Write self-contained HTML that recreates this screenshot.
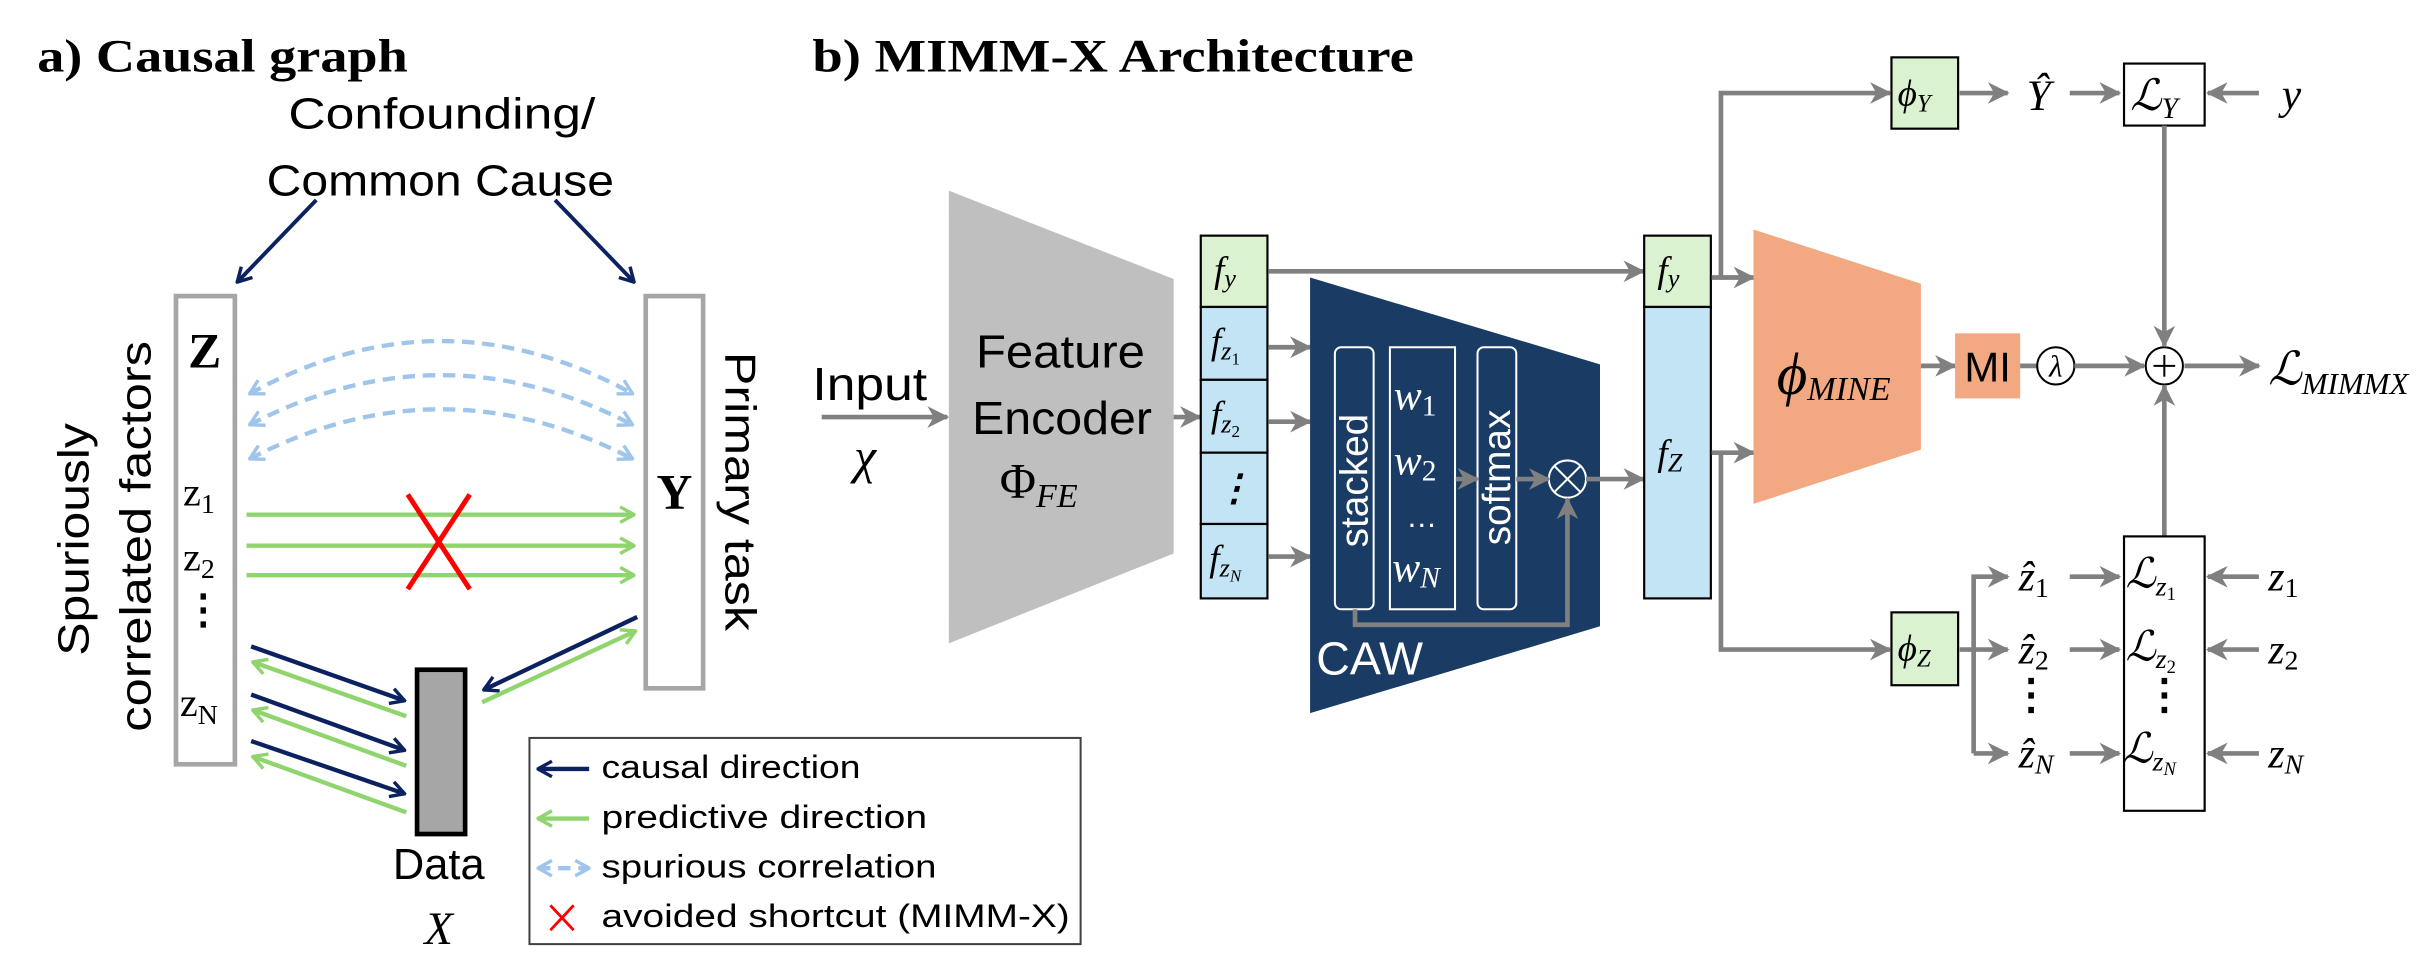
<!DOCTYPE html>
<html><head><meta charset="utf-8"><style>
html,body{margin:0;padding:0;background:#fff;}
svg{display:block;}
text{font-family:"Liberation Sans",sans-serif;}
.s{font-family:"Liberation Serif","DejaVu Serif",serif;}
.m{font-family:"Liberation Serif","DejaVu Serif",serif;font-style:italic;}
</style></head><body>
<svg width="2431" height="959" viewBox="0 0 1568 618.6" preserveAspectRatio="none" xmlns="http://www.w3.org/2000/svg">
<defs>
<marker id="g" markerUnits="userSpaceOnUse" viewBox="0 0 12 12" refX="11" refY="6" markerWidth="14" markerHeight="14" orient="auto-start-reverse"><path d="M0,0 L12,6 L0,12 L3.5,6 Z" fill="#808080"/></marker>
<marker id="n" markerUnits="userSpaceOnUse" viewBox="0 0 12 12" refX="11" refY="6" markerWidth="12" markerHeight="12" orient="auto-start-reverse"><path d="M2,1 L11,6 L2,11" fill="none" stroke="#0c2160" stroke-width="2.2"/></marker>
<marker id="gr" markerUnits="userSpaceOnUse" viewBox="0 0 12 12" refX="11" refY="6" markerWidth="12" markerHeight="12" orient="auto-start-reverse"><path d="M2,1 L11,6 L2,11" fill="none" stroke="#8fd46c" stroke-width="2.2"/></marker>
<marker id="b" markerUnits="userSpaceOnUse" viewBox="0 0 12 12" refX="11" refY="6" markerWidth="12" markerHeight="12" orient="auto-start-reverse"><path d="M2,1 L11,6 L2,11" fill="none" stroke="#9fc5ea" stroke-width="2.2"/></marker>
</defs>

<!-- Titles -->
<text x="24" y="46" class="s" font-weight="bold" font-size="30" textLength="239" lengthAdjust="spacingAndGlyphs">a) Causal graph</text>
<text x="524" y="46" class="s" font-weight="bold" font-size="30" textLength="388" lengthAdjust="spacingAndGlyphs">b) MIMM-X Architecture</text>

<!-- Part a -->
<text x="186" y="83" font-size="28" textLength="198" lengthAdjust="spacingAndGlyphs">Confounding/</text>
<text x="172" y="126" font-size="28" textLength="224" lengthAdjust="spacingAndGlyphs">Common Cause</text>
<line x1="204" y1="129" x2="153" y2="182" stroke="#0c2160" stroke-width="2.5" marker-end="url(#n)"/>
<line x1="358" y1="129" x2="409" y2="182" stroke="#0c2160" stroke-width="2.5" marker-end="url(#n)"/>

<rect x="113.5" y="191" width="38" height="302" fill="#fff" stroke="#a6a6a6" stroke-width="3"/>
<rect x="416.5" y="191" width="37" height="253" fill="#fff" stroke="#a6a6a6" stroke-width="3"/>
<text x="132" y="237" class="s" font-weight="bold" font-size="32" text-anchor="middle">Z</text>
<text x="435" y="328" class="s" font-weight="bold" font-size="32" text-anchor="middle">Y</text>
<text x="118" y="326" class="s" font-size="26">z<tspan font-size="18" dy="5">1</tspan></text>
<text x="118" y="368" class="s" font-size="26">z<tspan font-size="18" dy="5">2</tspan></text>
<text x="131" y="402" class="s" font-size="26" font-weight="bold" text-anchor="middle">⋮</text>
<text x="116" y="462" class="s" font-size="26">z<tspan font-size="18" dy="5">N</tspan></text>

<text transform="translate(57,348) rotate(-90)" font-size="28" text-anchor="middle" textLength="150" lengthAdjust="spacingAndGlyphs">Spuriously</text>
<text transform="translate(97,346) rotate(-90)" font-size="28" text-anchor="middle" textLength="252" lengthAdjust="spacingAndGlyphs">correlated factors</text>
<text transform="translate(468,317) rotate(90)" font-size="28" text-anchor="middle" textLength="180" lengthAdjust="spacingAndGlyphs">Primary task</text>

<g fill="none" stroke="#9fc5ea" stroke-width="2.8" stroke-dasharray="8,5">
<path d="M161,254 Q284.5,186 408,254" marker-start="url(#b)" marker-end="url(#b)"/>
<path d="M161,274 Q284.5,210 408,274" marker-start="url(#b)" marker-end="url(#b)"/>
<path d="M161,296 Q284.5,232 408,296" marker-start="url(#b)" marker-end="url(#b)"/>
</g>
<g stroke="#8fd46c" stroke-width="2.8">
<line x1="159" y1="332" x2="409" y2="332" marker-end="url(#gr)"/>
<line x1="159" y1="352" x2="409" y2="352" marker-end="url(#gr)"/>
<line x1="159" y1="371" x2="409" y2="371" marker-end="url(#gr)"/>
</g>
<g stroke="#ff0000" stroke-width="3.2">
<line x1="263" y1="319" x2="303" y2="380"/><line x1="303" y1="319" x2="263" y2="380"/>
</g>

<rect x="269" y="432" width="31" height="106" fill="#a6a6a6" stroke="#000" stroke-width="3"/>
<text x="283" y="567" text-anchor="middle" font-size="28">Data</text>
<text x="283" y="609" text-anchor="middle" class="m" font-size="30">X</text>

<g stroke-width="2.8">
<line x1="162" y1="417" x2="261" y2="452" stroke="#0c2160" marker-end="url(#n)"/>
<line x1="262" y1="462" x2="163" y2="427" stroke="#8fd46c" marker-end="url(#gr)"/>
<line x1="162" y1="448" x2="261" y2="484" stroke="#0c2160" marker-end="url(#n)"/>
<line x1="262" y1="494" x2="163" y2="458" stroke="#8fd46c" marker-end="url(#gr)"/>
<line x1="162" y1="478" x2="261" y2="512" stroke="#0c2160" marker-end="url(#n)"/>
<line x1="262" y1="524" x2="163" y2="488" stroke="#8fd46c" marker-end="url(#gr)"/>
<line x1="411" y1="398" x2="312" y2="445" stroke="#0c2160" marker-end="url(#n)"/>
<line x1="311" y1="453" x2="410" y2="407" stroke="#8fd46c" marker-end="url(#gr)"/>
</g>

<rect x="341.5" y="476" width="355.5" height="133" fill="#fff" stroke="#404040" stroke-width="1.3"/>
<line x1="380" y1="496" x2="347" y2="496" stroke="#0c2160" stroke-width="2.8" marker-end="url(#n)"/>
<line x1="380" y1="528" x2="347" y2="528" stroke="#8fd46c" stroke-width="2.8" marker-end="url(#gr)"/>
<line x1="347" y1="560" x2="380" y2="560" stroke="#9fc5ea" stroke-width="2.8" stroke-dasharray="8,5" marker-start="url(#b)" marker-end="url(#b)"/>
<g stroke="#ff0000" stroke-width="1.8"><line x1="355" y1="584" x2="370" y2="600"/><line x1="370" y1="584" x2="355" y2="600"/></g>
<g font-size="21">
<text x="388" y="502" textLength="167" lengthAdjust="spacingAndGlyphs">causal direction</text>
<text x="388" y="534" textLength="210" lengthAdjust="spacingAndGlyphs">predictive direction</text>
<text x="388" y="566" textLength="216" lengthAdjust="spacingAndGlyphs">spurious correlation</text>
<text x="388" y="598" textLength="302" lengthAdjust="spacingAndGlyphs">avoided shortcut (MIMM-X)</text>
</g>

<!-- Part b -->
<text x="524" y="258" font-size="30" textLength="74" lengthAdjust="spacingAndGlyphs">Input</text>
<text x="558" y="305" class="m" font-size="32" text-anchor="middle">χ</text>
<line x1="530" y1="269" x2="611" y2="269" stroke="#808080" stroke-width="3" marker-end="url(#g)"/>
<polygon points="612,123 757,180 757,357 612,415" fill="#bfbfbf"/>
<text x="684" y="237" font-size="30" text-anchor="middle" textLength="109" lengthAdjust="spacingAndGlyphs">Feature</text>
<text x="685" y="280" font-size="30" text-anchor="middle" textLength="116" lengthAdjust="spacingAndGlyphs">Encoder</text>
<text x="670" y="321" class="s" font-size="32" text-anchor="middle">Φ<tspan class="m" font-size="22" dy="6">FE</tspan></text>
<line x1="757" y1="269" x2="774" y2="269" stroke="#808080" stroke-width="3" marker-end="url(#g)"/>

<!-- feature column -->
<g stroke="#000" stroke-width="1.4">
<rect x="774.5" y="152" width="43" height="46" fill="#daf2d0"/>
<rect x="774.5" y="198" width="43" height="47" fill="#c2e4f4"/>
<rect x="774.5" y="245" width="43" height="47" fill="#c2e4f4"/>
<rect x="774.5" y="292" width="43" height="46" fill="#c2e4f4"/>
<rect x="774.5" y="338" width="43" height="48" fill="#c2e4f4"/>
</g>
<g class="m" font-size="24">
<text x="783" y="182" class="m">f<tspan font-size="17" dy="3">y</tspan></text>
<text x="781" y="228" class="m">f<tspan font-size="17" dy="4">z</tspan><tspan font-size="11" dy="3" font-style="normal">1</tspan></text>
<text x="781" y="275" class="m">f<tspan font-size="17" dy="4">z</tspan><tspan font-size="11" dy="3" font-style="normal">2</tspan></text>
<text x="796" y="323" class="s" text-anchor="middle" font-weight="bold">⋮</text>
<text x="780" y="368" class="m">f<tspan font-size="17" dy="4">z</tspan><tspan font-size="11" dy="3">N</tspan></text>
</g>
<g stroke="#808080" stroke-width="3">
<line x1="818" y1="224" x2="845" y2="224" marker-end="url(#g)"/>
<line x1="818" y1="272" x2="845" y2="272" marker-end="url(#g)"/>
<line x1="818" y1="359" x2="845" y2="359" marker-end="url(#g)"/>
<line x1="818" y1="175" x2="1060" y2="175" marker-end="url(#g)"/>
</g>

<!-- CAW -->
<polygon points="845,179 1032,235 1032,404 845,460" fill="#1a3c64"/>
<g fill="none" stroke="#fff" stroke-width="1.3">
<rect x="861" y="224" width="25" height="169" rx="4"/>
<rect x="896.5" y="224" width="42" height="169"/>
<rect x="953" y="224" width="25" height="169" rx="4"/>
<circle cx="1011" cy="309" r="12"/>
<line x1="1002.5" y1="300.5" x2="1019.5" y2="317.5"/><line x1="1019.5" y1="300.5" x2="1002.5" y2="317.5"/>
</g>
<text transform="translate(882,310) rotate(-90)" fill="#fff" font-size="25" text-anchor="middle">stacked</text>
<text transform="translate(974,308) rotate(-90)" fill="#fff" font-size="25" text-anchor="middle">softmax</text>
<g fill="#fff" font-size="27">
<text x="899" y="264" class="m">w<tspan font-size="19" dy="4" font-style="normal">1</tspan></text>
<text x="899" y="306" class="m">w<tspan font-size="19" dy="4" font-style="normal">2</tspan></text>
<text x="917" y="340" text-anchor="middle" font-size="20">…</text>
<text x="898" y="375" class="m">w<tspan font-size="19" dy="4">N</tspan></text>
</g>
<text x="849" y="435" fill="#fff" font-size="30">CAW</text>
<g stroke="#808080" stroke-width="3" fill="none">
<line x1="939" y1="309" x2="953" y2="309" marker-end="url(#g)"/>
<line x1="978" y1="309" x2="999" y2="309" marker-end="url(#g)"/>
<line x1="1023" y1="309" x2="1060" y2="309" marker-end="url(#g)"/>
<polyline points="874,393 874,403 1011,403 1011,322" marker-end="url(#g)"/>
</g>

<!-- second column -->
<g stroke="#000" stroke-width="1.4">
<rect x="1060.5" y="152" width="43" height="46" fill="#daf2d0"/>
<rect x="1060.5" y="198" width="43" height="188" fill="#c2e4f4"/>
</g>
<text x="1069" y="182" class="m" font-size="24">f<tspan font-size="17" dy="3">y</tspan></text>
<text x="1069" y="300" class="m" font-size="24">f<tspan font-size="17" dy="4">Z</tspan></text>

<g stroke="#808080" stroke-width="3" fill="none">
<line x1="1104" y1="179" x2="1131" y2="179" marker-end="url(#g)"/>
<line x1="1104" y1="292" x2="1131" y2="292" marker-end="url(#g)"/>
<polyline points="1110,179 1110,60 1219,60" marker-end="url(#g)"/>
<polyline points="1110,292 1110,419 1219,419" marker-end="url(#g)"/>
</g>

<!-- MINE -->
<polygon points="1131,148 1239,183 1239,290 1131,325" fill="#f2a982"/>
<text x="1146" y="254" class="m" font-size="38">ϕ<tspan font-size="22" dy="4">MINE</tspan></text>
<line x1="1239" y1="236" x2="1261" y2="236" stroke="#808080" stroke-width="3" marker-end="url(#g)"/>
<rect x="1261" y="215" width="42" height="42" fill="#f2a982"/>
<text x="1282" y="246" font-size="27" text-anchor="middle">MI</text>
<line x1="1303" y1="236" x2="1314" y2="236" stroke="#808080" stroke-width="3"/>
<circle cx="1326" cy="236" r="12" fill="#fff" stroke="#000" stroke-width="1.3"/>
<text x="1326" y="243" class="m" font-size="20" text-anchor="middle">λ</text>
<line x1="1338" y1="236" x2="1383" y2="236" stroke="#808080" stroke-width="3" marker-end="url(#g)"/>
<circle cx="1396" cy="236" r="12" fill="#fff" stroke="#000" stroke-width="1.3"/>
<line x1="1389" y1="236" x2="1403" y2="236" stroke="#000" stroke-width="1.3"/>
<line x1="1396" y1="229" x2="1396" y2="243" stroke="#000" stroke-width="1.3"/>
<line x1="1409" y1="236" x2="1457" y2="236" stroke="#808080" stroke-width="3" marker-end="url(#g)"/>
<text x="1463" y="248" class="m" font-size="30">ℒ<tspan font-size="20" dy="6">MIMMX</tspan></text>

<!-- phi Y -->
<rect x="1220" y="37" width="43" height="46" fill="#daf2d0" stroke="#000" stroke-width="1.4"/>
<text x="1224" y="68" class="m" font-size="24">ϕ<tspan font-size="16" dy="4">Y</tspan></text>
<line x1="1264" y1="60" x2="1295" y2="60" stroke="#808080" stroke-width="3" marker-end="url(#g)"/>
<text x="1315" y="71" class="m" font-size="28" text-anchor="middle">Ŷ</text>
<line x1="1335" y1="60" x2="1367" y2="60" stroke="#808080" stroke-width="3" marker-end="url(#g)"/>
<rect x="1370" y="41" width="52" height="40" fill="#fff" stroke="#000" stroke-width="1.4"/>
<text x="1374" y="71" class="m" font-size="28">ℒ<tspan font-size="19" dy="5">Y</tspan></text>
<line x1="1457" y1="60" x2="1424" y2="60" stroke="#808080" stroke-width="3" marker-end="url(#g)"/>
<text x="1478" y="70" class="m" font-size="28" text-anchor="middle">y</text>
<line x1="1396" y1="81" x2="1396" y2="223" stroke="#808080" stroke-width="3" marker-end="url(#g)"/>
<line x1="1396" y1="346" x2="1396" y2="249" stroke="#808080" stroke-width="3" marker-end="url(#g)"/>

<!-- phi Z -->
<rect x="1220" y="395" width="43" height="47" fill="#daf2d0" stroke="#000" stroke-width="1.4"/>
<text x="1224" y="426" class="m" font-size="24">ϕ<tspan font-size="16" dy="4">Z</tspan></text>
<g stroke="#808080" stroke-width="3" fill="none">
<line x1="1264" y1="419" x2="1295" y2="419" marker-end="url(#g)"/>
<polyline points="1273,486 1273,372 1295,372" marker-end="url(#g)"/>
<line x1="1273" y1="486" x2="1295" y2="486" marker-end="url(#g)"/>
<line x1="1335" y1="372" x2="1367" y2="372" marker-end="url(#g)"/>
<line x1="1335" y1="419" x2="1367" y2="419" marker-end="url(#g)"/>
<line x1="1335" y1="486" x2="1367" y2="486" marker-end="url(#g)"/>
<line x1="1457" y1="372" x2="1424" y2="372" marker-end="url(#g)"/>
<line x1="1457" y1="419" x2="1424" y2="419" marker-end="url(#g)"/>
<line x1="1457" y1="486" x2="1424" y2="486" marker-end="url(#g)"/>
</g>
<g class="m" font-size="27">
<text x="1302" y="381" class="m">ẑ<tspan font-size="18" dy="4" font-style="normal">1</tspan></text>
<text x="1302" y="428" class="m">ẑ<tspan font-size="18" dy="4" font-style="normal">2</tspan></text>
<text x="1310" y="457" class="s" font-style="normal" font-weight="bold" text-anchor="middle">⋮</text>
<text x="1302" y="495" class="m">ẑ<tspan font-size="18" dy="4">N</tspan></text>
</g>
<rect x="1370" y="346" width="52" height="177" fill="#fff" stroke="#000" stroke-width="1.4"/>
<g class="m" font-size="27">
<text x="1371" y="379" class="m">ℒ<tspan font-size="18" dy="5">z</tspan><tspan font-size="12" dy="3" font-style="normal">1</tspan></text>
<text x="1371" y="426" class="m">ℒ<tspan font-size="18" dy="5">z</tspan><tspan font-size="12" dy="3" font-style="normal">2</tspan></text>
<text x="1396" y="457" class="s" font-style="normal" font-weight="bold" text-anchor="middle">⋮</text>
<text x="1369" y="492" class="m">ℒ<tspan font-size="18" dy="5">z</tspan><tspan font-size="12" dy="3">N</tspan></text>
</g>
<g class="m" font-size="27">
<text x="1463" y="381" class="m">z<tspan font-size="18" dy="4" font-style="normal">1</tspan></text>
<text x="1463" y="428" class="m">z<tspan font-size="18" dy="4" font-style="normal">2</tspan></text>
<text x="1463" y="495" class="m">z<tspan font-size="18" dy="4">N</tspan></text>
</g>
</svg>
</body></html>
